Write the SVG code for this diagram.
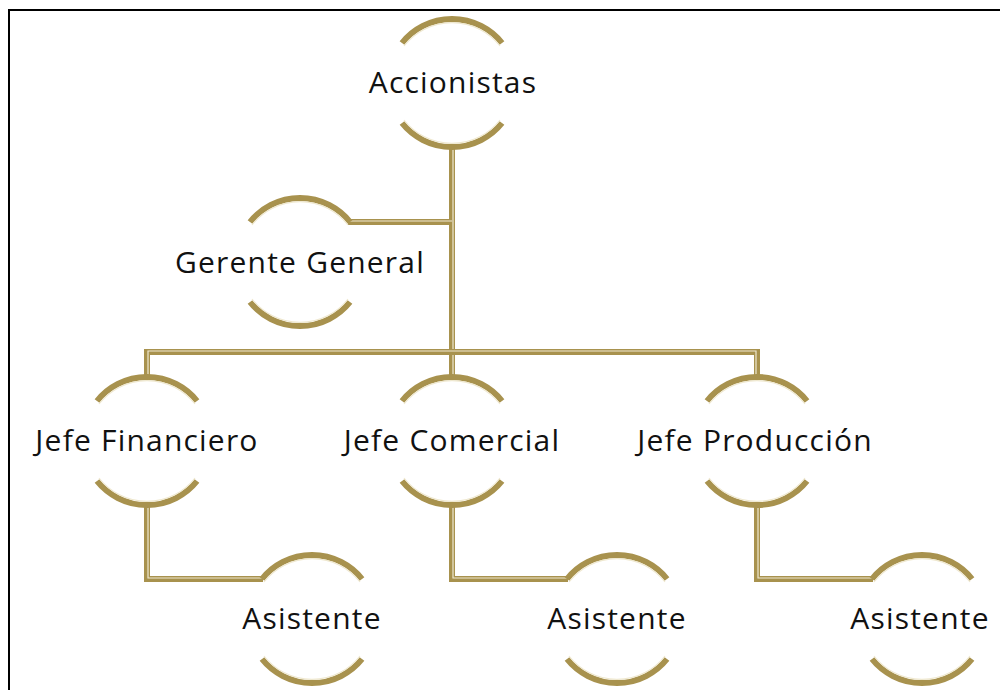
<svg xmlns="http://www.w3.org/2000/svg" width="1000" height="690" viewBox="0 0 1000 690">
<style>
.g{fill:none;stroke:#a8924e;stroke-width:6;stroke-linejoin:miter}
.h{fill:none;stroke:#efe8cf;stroke-width:1.2}
.t{font-family:"Open Sans","DejaVu Sans",sans-serif;font-size:30px;letter-spacing:1.2px;fill:#111;text-anchor:middle}
</style>
<defs>
<g id="arcs">
<path class="g" d="M-50,-40 A64,64 0 0 1 50,-40"/>
<path class="h" d="M-48,-37 A61,61 0 0 1 48,-37"/>
<path class="g" d="M-50,40 A64,64 0 0 0 50,40"/>
<path class="h" d="M-48,37 A61,61 0 0 0 48,37"/>
</g>
</defs>
<rect x="9" y="10" width="1000" height="700" fill="#fff" stroke="#000" stroke-width="2"/>
<g id="connectors">
<path class="g" d="M452,147 V377"/>
<path class="h" d="M453,147 V377"/>
<path class="g" d="M348,222 H452"/>
<path class="h" d="M348,221 H452"/>
<path class="g" d="M147,377 V352 H757 V377"/>
<path class="h" d="M148,377 V351 H756 V377"/>
<path class="g" d="M147,505 V579 H263"/>
<path class="h" d="M148,505 V578 H263"/>
<path class="g" d="M452,505 V579 H568"/>
<path class="h" d="M453,505 V578 H568"/>
<path class="g" d="M757,505 V579 H873"/>
<path class="h" d="M758,505 V578 H873"/>
</g>
<g id="accionistas"><use href="#arcs" x="452" y="83"/><text class="t" x="453" y="93">Accionistas</text></g>
<g id="gerente"><use href="#arcs" x="300" y="262"/><text class="t" x="300" y="273">Gerente General</text></g>
<g id="jefe-financiero"><use href="#arcs" x="147" y="441"/><text class="t" x="147" y="451">Jefe Financiero</text></g>
<g id="jefe-comercial"><use href="#arcs" x="452" y="441"/><text class="t" x="452" y="451">Jefe Comercial</text></g>
<g id="jefe-produccion"><use href="#arcs" x="757" y="441"/><text class="t" x="755" y="451">Jefe Producción</text></g>
<g id="asistente1"><use href="#arcs" x="312" y="619"/><text class="t" x="312" y="629">Asistente</text></g>
<g id="asistente2"><use href="#arcs" x="617" y="619"/><text class="t" x="617" y="629">Asistente</text></g>
<g id="asistente3"><use href="#arcs" x="922" y="619"/><text class="t" x="920" y="629">Asistente</text></g>
</svg>
